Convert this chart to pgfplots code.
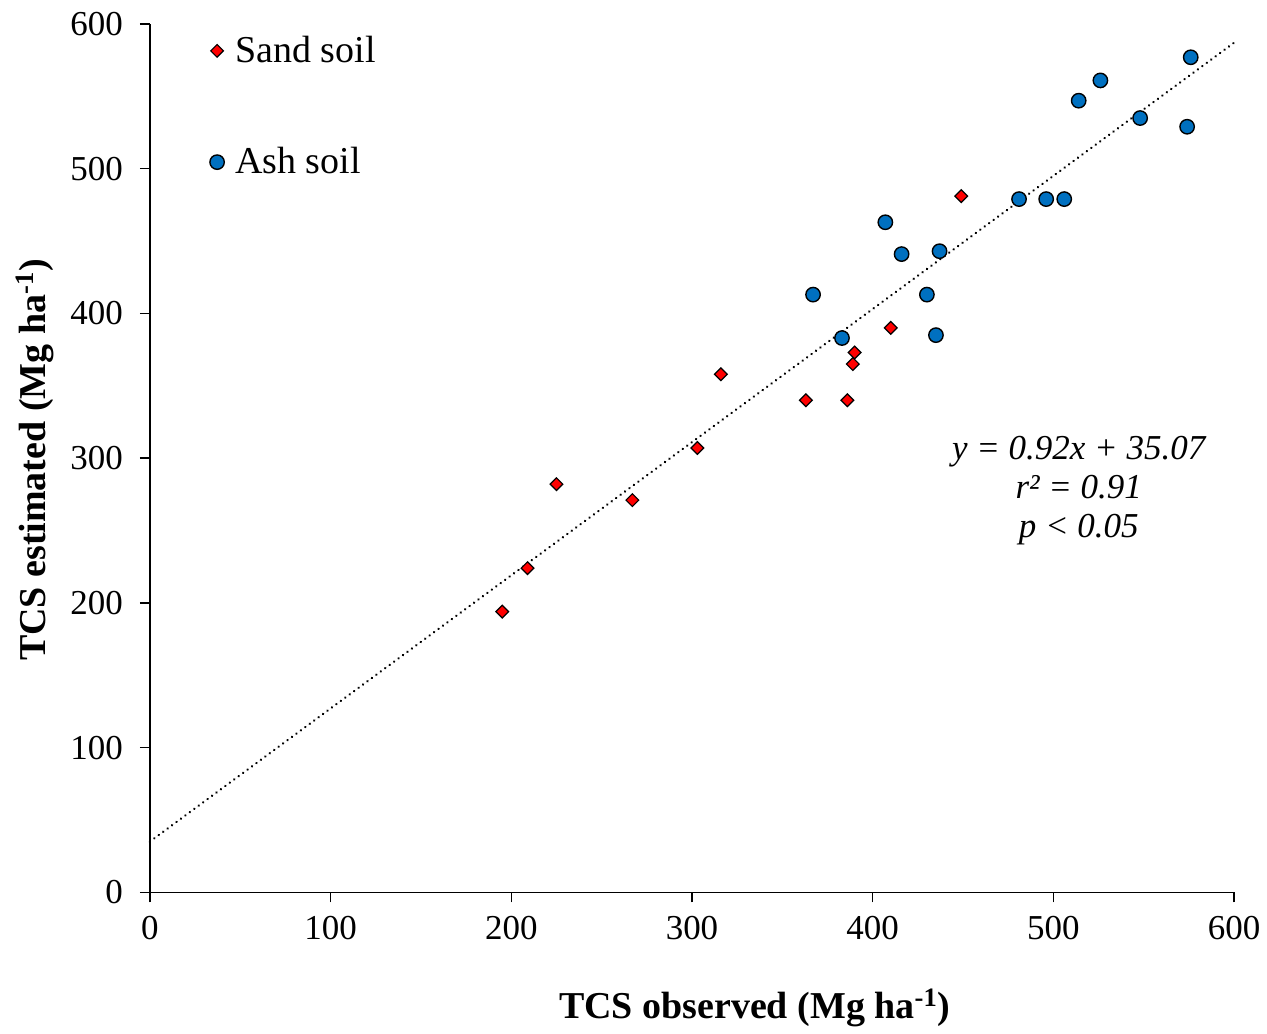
\documentclass[border=0pt]{standalone}
\usepackage{fontspec}
\setmainfont{Liberation Serif}
\usepackage{pgfplots}
\pgfplotsset{compat=1.18}
\definecolor{ashblue}{HTML}{0070C0}
\definecolor{sandred}{HTML}{FF0000}

\pgfplotstableread{
x y
195 194
209 224
225 282
267 271
303 307
316 358
363 340
386 340
389 365
390 373
410 390
449 481
}\sand

\pgfplotstableread{
x y
367 413
383 383
407 463
416 441
437 443
430 413
435 385
481 479
496 479
506 479
514 547
526 561
548 535
574 529
576 577
}\ash

\begin{document}
\begin{tikzpicture}
\begin{axis}[
  scale only axis, width=542.5pt, height=434.5pt,
  xmin=0, xmax=600, ymin=0, ymax=600,
  xtick={0,100,...,600}, ytick={0,100,...,600},
  axis lines=left, axis line style={-, line width=0.7pt},
  tick align=outside, major tick length=5pt, tick style={line width=0.7pt, black},
  ticklabel style={font=\fontsize{17.5}{17.5}\selectfont},
  yticklabel style={xshift=-5pt},
  xticklabel style={yshift=-3.5pt},
  /pgf/number format/assume math mode=true,
  clip=false,
  xlabel={\textbf{TCS observed (Mg ha\textsuperscript{-1})}},
  ylabel={\textbf{TCS estimated (Mg ha\textsuperscript{-1})}},
  xlabel style={at={(axis description cs:0.558,-0.133)}, anchor=center, font=\fontsize{19}{19}\selectfont},
  ylabel style={at={(axis description cs:-0.106,0.498)}, anchor=center, font=\fontsize{19}{19}\selectfont},
  legend style={draw=none, fill=none, at={(axis description cs:0.055,0.9864)}, anchor=north west,
    font=\fontsize{19}{19}\selectfont, row sep=41pt, inner sep=0pt,
    nodes={inner sep=0pt},
    /tikz/every odd column/.append style={column sep=5.5pt}},
  legend cell align=left,
]
\addplot[only marks, mark=square*, mark size=2.25pt, mark options={rotate=45, fill=sandred, draw=black, line width=0.6pt}] table[x=x,y=y] {\sand};
\addlegendentry{Sand soil}
\addplot[only marks, mark=*, mark size=3.6pt, mark options={fill=ashblue, draw=black, line width=0.7pt}] table[x=x,y=y] {\ash};
\addlegendentry{Ash soil}
\addplot[black, line width=1.3pt, dash pattern=on 0.01pt off 2.75pt, line cap=round, forget plot] coordinates {(0,35.07) (600,587.07)};
\node[align=center, font=\fontsize{17.5}{19.5}\selectfont\itshape] at (axis cs:514,277.5) {y = 0.92x + 35.07\\r² = 0.91\\p < 0.05};
\end{axis}
\path (current axis.south west) ++(-75pt,-69pt) rectangle ([xshift=16pt,yshift=12pt]current axis.north east);
\end{tikzpicture}
\end{document}
